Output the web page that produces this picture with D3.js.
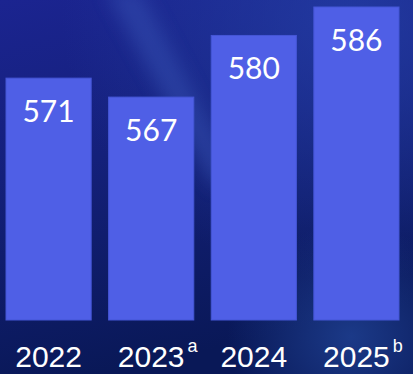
<!DOCTYPE html>
<html>
<head>
<meta charset="utf-8">
<script src="https://cdn.jsdelivr.net/npm/d3@7"></script>
<style>
  html, body { margin: 0; padding: 0; background: #0d1a66; }
  svg { display: block; }
</style>
</head>
<body>
<div id="chart"></div>
<script>
// Yearly totals
const years = ["2022", "2023", "2024", "2025"];
const values = [571, 567, 580, 586];
const footnotes = ["", "a", "", "b"];

const W = 413, H = 374;

const svg = d3.select("#chart").append("svg")
  .attr("width", W).attr("height", H);

const defs = svg.append("defs");

// Navy backdrop: darker towards the bottom
const bg = defs.append("linearGradient").attr("id", "bg")
  .attr("x1", 0).attr("y1", 0).attr("x2", 0.25).attr("y2", 1);
bg.append("stop").attr("offset", "0%").attr("stop-color", "#1b2490");
bg.append("stop").attr("offset", "45%").attr("stop-color", "#14207a");
bg.append("stop").attr("offset", "100%").attr("stop-color", "#091857");

// Lighter wash on the upper right
const wash = defs.append("radialGradient").attr("id", "wash")
  .attr("cx", 0.85).attr("cy", 0.05).attr("r", 0.7);
wash.append("stop").attr("offset", "0%").attr("stop-color", "#2540a8").attr("stop-opacity", 0.75);
wash.append("stop").attr("offset", "100%").attr("stop-color", "#2540a8").attr("stop-opacity", 0);

// Soft glow near the lower right
const glow = defs.append("radialGradient").attr("id", "glow")
  .attr("cx", 0.85).attr("cy", 0.9).attr("r", 0.3);
glow.append("stop").attr("offset", "0%").attr("stop-color", "#2a55b0").attr("stop-opacity", 0.55);
glow.append("stop").attr("offset", "100%").attr("stop-color", "#2a55b0").attr("stop-opacity", 0);

defs.append("filter").attr("id", "soft")
  .attr("x", "-50%").attr("y", "-50%").attr("width", "200%").attr("height", "200%")
  .append("feGaussianBlur").attr("stdDeviation", 9);

svg.append("rect").attr("width", W).attr("height", H).attr("fill", "url(#bg)");
svg.append("rect").attr("width", W).attr("height", H).attr("fill", "url(#wash)");
svg.append("rect").attr("width", W).attr("height", H).attr("fill", "url(#glow)");

// Diagonal light streak
svg.append("path")
  .attr("d", "M105,-10 L140,-10 L235,170 L215,190 Z")
  .attr("fill", "#3a56b8").attr("opacity", 0.45)
  .attr("filter", "url(#soft)");

// Scales
const x = d3.scaleBand().domain(years).range([6, 399]).paddingInner(0.17).paddingOuter(0);
const y = d3.scaleLinear().domain([520, 586]).range([320, 7]);

const bars = svg.append("g");
bars.selectAll("rect").data(years).join("rect")
  .attr("x", d => x(d))
  .attr("y", (d, i) => y(values[i]))
  .attr("width", x.bandwidth())
  .attr("height", (d, i) => y(520) - y(values[i]))
  .attr("fill", "#4f5fe6")
  .attr("stroke", "#4556d6").attr("stroke-width", 1);

// Values inside the bars
svg.append("g").selectAll("text").data(years).join("text")
  .attr("x", d => x(d) + x.bandwidth() / 2)
  .attr("y", (d, i) => y(values[i]) + 44)
  .attr("text-anchor", "middle")
  .attr("font-family", "Lato, sans-serif")
  .attr("font-size", 30)
  .attr("fill", "#ffffff")
  .text((d, i) => values[i]);

// Year labels with footnote markers
const xAxis = d3.axisBottom(x).tickSize(0).tickPadding(0);
const axisG = svg.append("g").attr("transform", "translate(0,340)").call(xAxis);
axisG.select(".domain").remove();
axisG.selectAll(".tick text")
  .attr("y", 27).attr("dy", 0)
  .attr("font-family", "'Liberation Sans', Arial, sans-serif")
  .attr("font-size", 30)
  .attr("fill", "#ffffff");

axisG.selectAll(".tick").each(function(d, i) {
  if (!footnotes[i]) return;
  const t = d3.select(this).select("text");
  const w = t.node().getComputedTextLength();
  d3.select(this).append("text")
    .attr("x", w / 2 + 8).attr("y", 12)
    .attr("font-family", "'Liberation Sans', Arial, sans-serif")
    .attr("font-size", 18)
    .attr("fill", "#ffffff")
    .text(footnotes[i]);
});
</script>
</body>
</html>
